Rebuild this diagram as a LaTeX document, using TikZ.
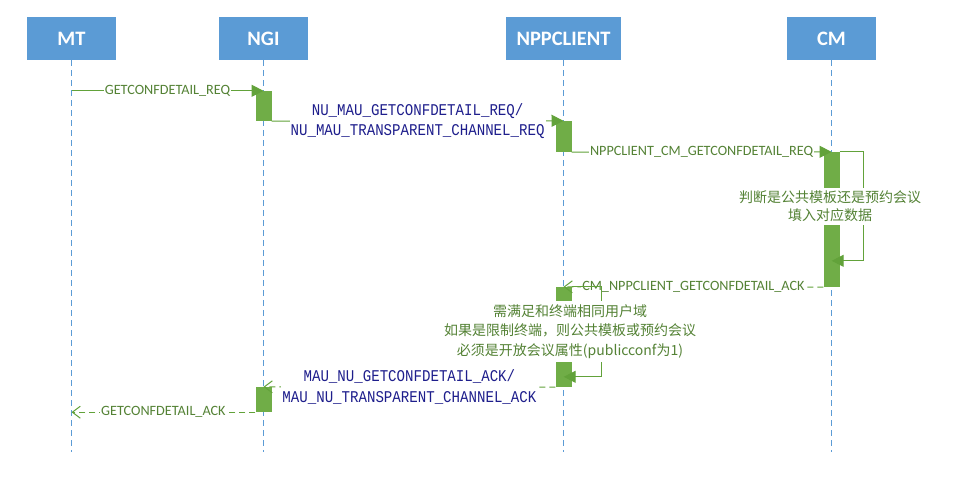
\documentclass[tikz,border=0pt]{standalone}
\usepackage{fontspec}
\setmainfont{Carlito}
\newfontfamily\cjkfont{Noto Sans CJK SC}
\newfontfamily\msgmono[FakeStretch=0.86]{Liberation Mono}
\usetikzlibrary{arrows.meta}
\definecolor{headblue}{RGB}{91,155,213}
\definecolor{actgreen}{RGB}{112,173,71}
\definecolor{linegreen}{RGB}{98,162,58}
\definecolor{labgreen}{RGB}{84,130,53}
\definecolor{msgblue}{RGB}{30,30,140}
\begin{document}
\begin{tikzpicture}[x=1pt,y=-1pt,
  head/.style={fill=headblue,text=white,minimum width=89,minimum height=43,inner sep=0,font=\fontsize{20.5}{24}\selectfont\bfseries},
  life/.style={headblue,line width=0.8pt,dash pattern=on 6pt off 4pt},
  act/.style={fill=actgreen,minimum width=16,inner sep=0},
  req/.style={linegreen,line width=1pt,-{Triangle[length=12pt,width=12pt]}},
  ack/.style={linegreen,line width=1pt,dash pattern=on 6pt off 4pt,-{Straight Barb[length=8pt,width=12pt]}},
  lab/.style={fill=white,text=labgreen,inner sep=1pt,font=\fontsize{14.2}{16}\selectfont},
  mono/.style={fill=white,text=msgblue,inner sep=1pt,align=center,font=\msgmono\fontsize{16.4}{20.5}\selectfont},
  note/.style={fill=white,text=labgreen,inner sep=3pt,align=center,font=\cjkfont\fontsize{14}{18}\selectfont}]
\fill[white] (0,0) rectangle (969,499);
\useasboundingbox (0,0) rectangle (969,499);
\node[head] (mt) at (71.5,38.5) {MT};
\node[head] (ngi) at (263.5,38.5) {NGI};
\node[head,minimum width=115] (npp) at (563.5,38.5) {NPPCLIENT};
\node[head] (cm) at (831.5,38.5) {CM};
\foreach \n in {mt,ngi,npp,cm}
  \draw[life] (\n.south) -- ++(0,392);
\node[act,minimum height=30] (a1) at (263.5,106) {};
\node[act,minimum height=31] (a2) at (563.5,136.5) {};
\node[act,minimum height=135] (a3) at (831.5,219.5) {};
\node[act,minimum height=100] (a4) at (563.5,337) {};
\node[act,minimum height=25] (a5) at (263.5,399.5) {};
\draw[req] (mt |- a1.north) -- (ngi |- a1.north) node[lab,midway] {GETCONFDETAIL\_REQ};
\draw[req] (a1.south east) -- (npp |- a2.north) node[mono,midway] {NU\_MAU\_GETCONFDETAIL\_REQ/\\NU\_MAU\_TRANSPARENT\_CHANNEL\_REQ};
\draw[req] (a2.south east) -- (cm |- a3.north) node[lab,midway] {NPPCLIENT\_CM\_GETCONFDETAIL\_REQ};
\draw[ack] (a3.south west) -- (npp |- a4.north) node[lab,midway] {CM\_NPPCLIENT\_GETCONFDETAIL\_ACK};
\draw[ack] (a4.south west) -- (ngi |- a5.north) node[mono,midway] {MAU\_NU\_GETCONFDETAIL\_ACK/\\MAU\_NU\_TRANSPARENT\_CHANNEL\_ACK};
\draw[ack] (a5.south west) -- (mt |- a5.south) node[lab,midway] {GETCONFDETAIL\_ACK};
\draw[req] (a3.north east) -- ++(24,0) -- ++(0,109) -- ++(-32,0);
\draw[req] (a4.north east) -- ++(30,0) -- ++(0,90) -- ++(-38,0);
\node[note] (n1) at (830,206.5) {判断是公共模板还是预约会议\\填入对应数据};
\node[note,font=\cjkfont\fontsize{14}{19.5}\selectfont] (n2) at (570,331.5) {需满足和终端相同用户域\\如果是限制终端，则公共模板或预约会议\\必须是开放会议属性(publicconf为1)};
\end{tikzpicture}
\end{document}
